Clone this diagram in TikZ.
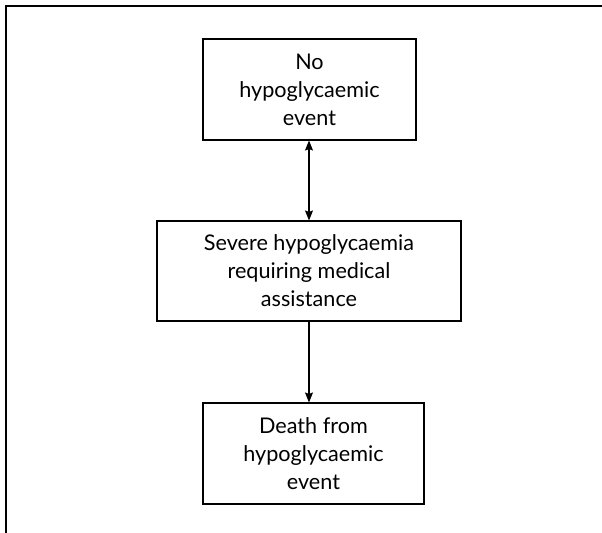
\documentclass[tikz,border=0pt]{standalone}
\usepackage{fontspec}
\setmainfont{Lato}
\usetikzlibrary{arrows.meta}

\tikzset{
  eventbox/.style = {draw, line width=0.6pt, align=center, inner sep=0pt,
    font=\fontsize{12.3pt}{16pt}\selectfont},
  flowarrow/.style = {line width=0.6pt, -{Stealth[length=2mm, width=1.6mm, inset=0.3mm]}},
  twowayarrow/.style = {line width=0.6pt, {Stealth[length=2mm, width=1.6mm, inset=0.3mm]}-{Stealth[length=2mm, width=1.6mm, inset=0.3mm]}}
}

\begin{document}
\begin{tikzpicture}
  \useasboundingbox (0,0) rectangle (12.04,-10.66);
  \draw[line width=0.9pt] (0.12,-10.66) -- (0.12,-0.12) -- (12.04,-0.12);
  \node[eventbox, minimum width=4.26cm, minimum height=2.02cm] (none) at (6.19,-1.79) {No\\hypoglycaemic\\event};
  \node[eventbox, minimum width=6.08cm, minimum height=2.0cm] (severe) at (6.18,-5.42) {Severe hypoglycaemia\\requiring medical\\assistance};
  \node[eventbox, minimum width=4.42cm, minimum height=2.02cm] (death) at (6.27,-9.07) {Death from\\hypoglycaemic\\event};
  \draw[twowayarrow] (none.south -| severe.north) -- (severe.north);
  \draw[flowarrow] (severe.south) -- (severe.south |- death.north);
\end{tikzpicture}
\end{document}
